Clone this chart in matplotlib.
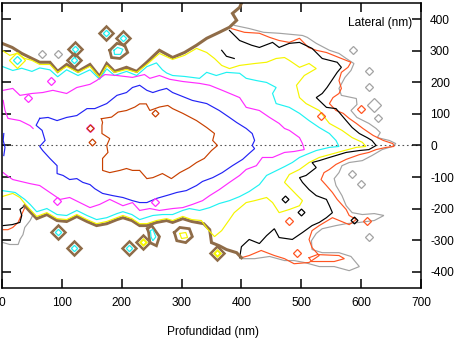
import numpy as np
import matplotlib
matplotlib.use("Agg")
import matplotlib.pyplot as plt

# ---- contour traces (depth nm, lateral nm) ----

# innermost level
rust = [(166, 85), (183, 90), (194, 106), (208, 111), (222, 122), (230, 132), (241, 132),
        (247, 111), (263, 122), (277, 127), (285, 117), (302, 102), (325, 79), (342, 57),
        (355, 38), (352, 16), (360, 0), (350, -16), (338, -41), (325, -54), (313, -70),
        (297, -86), (283, -105), (268, -89), (252, -102), (242, -105), (230, -79), (218, -79),
        (208, -73), (197, -79), (180, -86), (168, -79), (168, -41), (177, -22), (175, 0),
        (180, 22), (167, 38), (167, 64), (168, 73), (166, 85)]
rust_spots = [(147, 54), (150, 10), (255, 102)]

blue = [(63, 86), (77, 89), (92, 79), (108, 89), (125, 95), (142, 117), (155, 117),
        (175, 133), (192, 159), (208, 168), (218, 184), (230, 191), (242, 175), (252, 168),
        (263, 175), (275, 181), (285, 168), (297, 159), (318, 143), (342, 133), (363, 111),
        (380, 89), (392, 73), (408, 54), (418, 38), (422, 16), (418, 0), (422, -10),
        (413, -25), (402, -44), (385, -64), (368, -86), (352, -102), (335, -114), (325, -127),
        (308, -143), (292, -149), (280, -156), (258, -168), (242, -181), (230, -181),
        (218, -175), (202, -165), (185, -159), (168, -152), (155, -137), (147, -124),
        (135, -117), (125, -105), (113, -108), (102, -95), (92, -89), (92, -64), (80, -41),
        (68, -16), (63, -3), (72, 16), (67, 48), (57, 64), (63, 86)]
blue_edge = [(3, 38), (2, 16), (5, -6), (3, -32)]

magenta = [(2, 175), (18, 181), (30, 159), (50, 165), (68, 168), (85, 175), (108, 165),
           (125, 184), (147, 194), (158, 206), (172, 225), (192, 222), (218, 216), (238, 225),
           (247, 213), (263, 222), (280, 210), (302, 203), (330, 197), (347, 191), (368, 175),
           (397, 152), (408, 121), (430, 111), (447, 89), (463, 70), (472, 54), (480, 48),
           (497, 25), (502, 6), (505, -13), (488, -19), (472, -22), (452, -38), (435, -38),
           (425, -64), (408, -76), (397, -95), (380, -117), (363, -140), (347, -159),
           (335, -175), (318, -187), (302, -197), (285, -200), (263, -206), (247, -200),
           (230, -206), (218, -181), (202, -191), (180, -171), (163, -187), (147, -197),
           (130, -181), (113, -165), (97, -171), (80, -149), (63, -127), (47, -121),
           (18, -108), (8, -95), (2, -86)]
magenta_edge = [(2, 143), (5, 111), (10, 86), (30, 79), (47, 63), (52, 54)]
magenta_spots = [(82, 203), (43, 152), (147, 56), (92, -175), (255, -178)]

cyan = [(0, 251), (18, 238), (33, 245), (50, 235), (63, 246), (80, 240), (93, 218),
        (108, 240), (127, 222), (147, 240), (163, 210), (175, 243), (188, 222), (208, 235),
        (225, 222), (242, 250), (258, 262), (268, 240), (275, 230), (285, 222), (305, 219),
        (330, 213), (342, 232), (358, 222), (375, 232), (397, 229), (408, 213), (425, 206),
        (442, 200), (458, 184), (452, 165), (458, 133), (480, 121), (497, 102), (513, 79),
        (530, 57), (547, 38), (558, 16), (563, -3), (547, -6), (525, -16), (508, -29),
        (497, -38), (485, -54), (472, -67), (442, -95), (430, -124), (413, -146),
        (397, -162), (380, -175), (363, -184), (347, -197), (330, -206), (313, -200),
        (302, -206), (285, -219), (268, -219), (252, -222), (230, -235), (217, -219),
        (202, -210), (192, -216), (175, -229), (158, -235), (142, -222), (125, -206),
        (108, -222), (92, -219), (75, -200), (58, -210), (47, -187), (38, -171),
        (22, -149), (0, -143)]

yellow = [(0, 302), (13, 286), (25, 292), (38, 276), (50, 270), (63, 257), (80, 257),
          (93, 232), (108, 251), (127, 232), (147, 251), (163, 216), (175, 254), (188, 232),
          (208, 241), (225, 232), (242, 257), (263, 292), (285, 273), (305, 286), (325, 308),
          (342, 295), (355, 276), (367, 254), (380, 244), (397, 254), (422, 260), (442, 264),
          (458, 276), (472, 279), (480, 270), (497, 248), (513, 260), (525, 244), (505, 222),
          (492, 191), (497, 152), (508, 133), (530, 111), (547, 70), (568, 48), (585, 25),
          (602, 10), (608, -3), (592, -6), (572, -16), (530, -38), (513, -54), (497, -76),
          (480, -92), (472, -117), (492, -156), (502, -175), (497, -191), (480, -203),
          (463, -213), (452, -181), (442, -165), (422, -175), (408, -181), (388, -213),
          (380, -235), (367, -270), (355, -289), (343, -264), (333, -238), (317, -235),
          (302, -225), (285, -238), (275, -232), (258, -238), (242, -248), (230, -248),
          (217, -232), (202, -222), (192, -229), (175, -241), (158, -248), (142, -235),
          (125, -219), (108, -235), (92, -232), (75, -213), (58, -225), (47, -203),
          (38, -184), (30, -165), (18, -152), (0, -162)]

# outer levels run together along the top and bottom edges of the cloud
edge_top = [(0, 324), (17, 311), (33, 292), (50, 276), (63, 264), (80, 264), (93, 235),
            (108, 257), (127, 235), (147, 257), (163, 219), (175, 260), (188, 235),
            (208, 248), (225, 235), (242, 264), (263, 302), (285, 279), (305, 295),
            (325, 318), (342, 340), (363, 359), (380, 375), (392, 397), (385, 419),
            (397, 438), (402, 460)]
edge_bot = [(400, -356), (392, -340), (375, -330), (363, -318), (350, -308), (347, -267),
            (337, -248), (317, -241), (302, -232), (285, -244), (275, -238), (258, -244),
            (242, -254), (230, -254), (217, -238), (202, -229), (192, -235), (175, -248),
            (158, -254), (142, -241), (125, -225), (108, -241), (92, -238), (75, -219),
            (58, -232), (47, -210), (38, -191)]

black = [(380, 365), (397, 333), (417, 318), (430, 311), (452, 327), (463, 311), (480, 324),
         (497, 327), (518, 308), (535, 276), (560, 264), (567, 248), (560, 232), (543, 184),
         (535, 165), (525, 152), (542, 121), (558, 117), (575, 79), (585, 57), (597, 38),
         (610, 25), (618, 16), (625, 0), (613, -13), (597, -16), (575, -22), (547, -38),
         (530, -48), (518, -54), (525, -70), (508, -95), (497, -102), (502, -117),
         (513, -140), (525, -159), (542, -171), (547, -191), (552, -213), (542, -229),
         (530, -244), (518, -254), (502, -276), (485, -298), (463, -292), (455, -264),
         (442, -286), (430, -311), (413, -298), (400, -321), (397, -356)]
black_tail = [(38, -191), (30, -203), (33, -222), (30, -244), (17, -251), (2, -254)]
black_bits = [(367, 302), (375, 283), (388, 276)]

orange = [(383, 371), (405, 359), (430, 356), (447, 343), (463, 333), (480, 327), (497, 340),
          (512, 311), (525, 302), (542, 295), (563, 279), (575, 270), (583, 264), (578, 248),
          (567, 232), (563, 206), (567, 181), (563, 165), (553, 152), (547, 133), (558, 111),
          (570, 102), (580, 86), (592, 70), (603, 54), (613, 41), (620, 32), (637, 16),
          (653, 6), (655, -3), (642, -6), (625, -13), (613, -22), (597, -29), (575, -44),
          (558, -60), (547, -76), (538, -86), (533, -108), (542, -127), (552, -149),
          (560, -171), (575, -203), (580, -222), (592, -235), (580, -251), (552, -229),
          (530, -254), (518, -270), (513, -298), (518, -324), (530, -349), (513, -371),
          (488, -375), (472, -359), (455, -349), (433, -333), (413, -349), (400, -356)]
orange_tail = [(38, -197), (27, -244), (18, -260), (10, -267), (2, -267)]
orange_loop = [(513, -356), (527, -346), (563, -349), (572, -359), (555, -368),
               (517, -368), (513, -356)]

gray = [(388, 381), (413, 371), (437, 359), (463, 356), (502, 349), (510, 343), (525, 324),
        (547, 302), (563, 292), (575, 276), (588, 260), (583, 238), (573, 216), (563, 181),
        (567, 159), (592, 149), (593, 130), (583, 111), (593, 89), (613, 70), (625, 54),
        (632, 41), (627, 25), (647, 16), (658, 6), (652, -3), (635, -13), (618, -32),
        (602, -48), (580, -54), (568, -64), (563, -86), (555, -105), (558, -127),
        (568, -159), (575, -191), (585, -213), (602, -219), (622, -216), (638, -222),
        (622, -238), (597, -244), (575, -248), (558, -254), (535, -264), (525, -279),
        (517, -302), (518, -330), (535, -340), (563, -340), (583, -352), (597, -384),
        (580, -397), (555, -384), (530, -384), (505, -371), (488, -365), (472, -365),
        (447, -352), (422, -359), (400, -359)]
gray_tail = [(52, -219), (47, -238), (38, -260), (35, -283), (30, -298), (27, -314),
             (13, -314), (2, -308)]

# small closed islands of the outer levels
loop_top = [(180, 302), (192, 324), (205, 318), (210, 295), (197, 276), (183, 279), (180, 302)]
loop_top_in = [(187, 302), (193, 311), (202, 305), (198, 289), (188, 289), (187, 302)]
loop_bot1 = [(243, -264), (250, -254), (263, -289), (258, -318), (247, -308), (245, -276),
             (243, -264)]
loop_bot1_in = [(248, -270), (252, -266), (257, -290), (252, -302), (249, -290), (248, -270)]
loop_bot2 = [(288, -276), (297, -260), (313, -264), (318, -289), (307, -308), (292, -302),
             (288, -276)]
loop_bot2_in = [(297, -279), (307, -276), (310, -292), (300, -295), (297, -279)]

isl_brown_cyan = [(173, 356), (202, 340), (122, 305), (120, 270), (93, -273), (120, -324),
                  (213, -324)]
isl_brown_yellow = [(235, -305), (360, -340)]
isl_yellow_cyan = [(25, 270)]
isl_gray = [(67, 289), (93, 289), (587, 302), (613, 235), (613, 184), (628, 86),
            (613, -289), (600, -121), (585, -92)]
isl_gray_big = [(622, 127)]
isl_orange = [(480, -238), (493, -340), (610, -238), (533, 95), (600, 115)]
isl_black = [(588, -235), (473, -170), (500, -210)]

C_RUST = "#c84000"
C_BLUE = "#2323f5"
C_MAGENTA = "#ff2cff"
C_CYAN = "#1ff2f2"
C_YELLOW = "#f5f500"
C_ORANGE = "#ff5522"
C_GRAY = "#a3a3a3"
C_BROWN = "#8f6c48"

plt.rcParams["font.family"] = ["Liberation Sans", "DejaVu Sans"]
plt.rcParams["font.size"] = 8.6
plt.rcParams["axes.unicode_minus"] = False


def line(ax, pts, color, lw=0.85, z=2):
    pts = np.asarray(pts, dtype=float)
    ax.plot(pts[:, 0], pts[:, 1], color=color, lw=lw, zorder=z,
            solid_joinstyle="miter")


def spots(ax, pts, color, size, lw=0.9, z=3):
    pts = np.asarray(pts, dtype=float)
    ax.plot(pts[:, 0], pts[:, 1], ls="none", marker="D", ms=size, mfc="none",
            mec=color, mew=lw, zorder=z)


fig = plt.figure(figsize=(4.54, 3.44), dpi=100)
ax = fig.add_axes([0.0044, 0.1628, 0.9229, 0.8285])

ax.axhline(0, color="#555555", lw=0.8, ls=(0, (1.5, 2.5)), zorder=1)

# outer levels
line(ax, gray, C_GRAY)
line(ax, gray_tail, C_GRAY)
line(ax, orange, C_ORANGE)
line(ax, orange_tail, C_ORANGE)
line(ax, orange_loop, C_ORANGE)
line(ax, black, "black")
line(ax, black_tail, "black")
line(ax, black_bits, "black")
line(ax, edge_top, C_BROWN, lw=2.2)
line(ax, edge_bot, C_BROWN, lw=2.2)
line(ax, loop_top, C_BROWN, lw=2.0)
line(ax, loop_bot1, C_BROWN, lw=2.0)
line(ax, loop_bot2, C_BROWN, lw=2.0)
line(ax, loop_top_in, C_CYAN)
line(ax, loop_bot1_in, C_CYAN)
line(ax, loop_bot2_in, C_YELLOW)

spots(ax, isl_gray, C_GRAY, 4.5)
spots(ax, isl_gray_big, C_GRAY, 7)
spots(ax, isl_orange, C_ORANGE, 4)
spots(ax, isl_black, "black", 3.5)
spots(ax, isl_brown_cyan, C_BROWN, 7, lw=1.8)
spots(ax, isl_brown_cyan, C_CYAN, 3.2)
spots(ax, isl_brown_yellow, C_BROWN, 7, lw=1.8)
spots(ax, isl_brown_yellow, C_YELLOW, 3.2, lw=1.4)
spots(ax, isl_yellow_cyan, C_YELLOW, 8)
spots(ax, isl_yellow_cyan, C_CYAN, 4)

# inner levels
line(ax, yellow, C_YELLOW)
line(ax, cyan, C_CYAN)
line(ax, magenta, C_MAGENTA)
line(ax, magenta_edge, C_MAGENTA)
spots(ax, magenta_spots, C_MAGENTA, 4)
line(ax, blue, C_BLUE)
line(ax, blue_edge, C_BLUE)
line(ax, rust, C_RUST)
spots(ax, rust_spots, C_RUST, 3.5)

ax.set_xlim(0, 700)
ax.set_ylim(-452, 452)
ax.set_xticks(np.arange(0, 701, 100))
ax.set_yticks(np.arange(-400, 401, 100))
ax.tick_params(direction="in", length=6.5, width=1.1, top=True, right=True,
               labelleft=False, labelright=True, pad=6.5)
for s in ax.spines.values():
    s.set_linewidth(1.1)

ax.set_xlabel("Profundidad (nm)")
ax.xaxis.set_label_coords(0.503, -0.135)
ax.text(0.98, 0.93, "Lateral (nm)", transform=ax.transAxes, ha="right", va="center")

fig.savefig("out.png", dpi=100)
